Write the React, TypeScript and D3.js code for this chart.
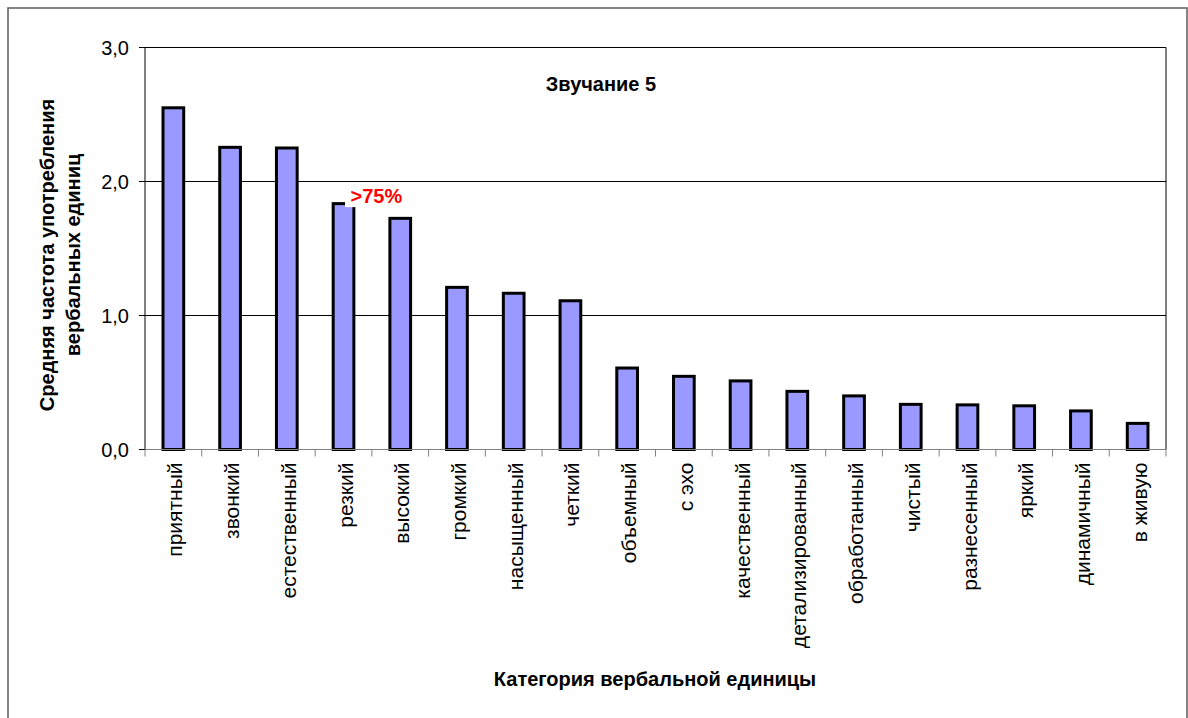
import React from "react";
import * as d3 from "d3";

const categories = [
  "приятный", "звонкий", "естественный", "резкий", "высокий", "громкий",
  "насыщенный", "четкий", "объемный", "с эхо", "качественный",
  "детализированный", "обработанный", "чистый", "разнесенный", "яркий",
  "динамичный", "в живую",
];
const values = [
  2.55, 2.255, 2.25, 1.835, 1.725, 1.21, 1.166, 1.11, 0.608, 0.546, 0.512,
  0.434, 0.4, 0.337, 0.333, 0.326, 0.288, 0.195,
];
const yTicks = [0, 1, 2, 3];
const chartTitle = "Звучание 5";
const yTitleLines = ["Средняя частота употребления", "вербальных единиц"];
const xTitle = "Категория вербальной единицы";
const annotation = { category: "резкий", text: ">75%" };

const W = 1188;
const H = 718;
const M = { left: 145, right: 1166, top: 47.5, bottom: 449.5 };
const FONT = "'Liberation Sans', Arial, sans-serif";

export default function App() {
  const x = d3
    .scaleBand<string>()
    .domain(categories)
    .range([M.left, M.right])
    .paddingInner(0.635)
    .paddingOuter(0.3175);
  const y = d3.scaleLinear().domain([0, 3]).range([M.bottom, M.top]);
  const step = x.step();
  const fmt = (v: number) => d3.format(".1f")(v).replace(".", ",");

  const annX = (x(annotation.category) ?? 0) + x.bandwidth() / 2;
  const annIdx = categories.indexOf(annotation.category);
  const annY = y(values[annIdx]);

  return (
    <svg
      width={W}
      height={H}
      style={{ position: "absolute", left: 0, top: 0, background: "#fff" }}
      fontFamily={FONT}
    >
      <rect x={0} y={0} width={W} height={H} fill="#fff" />
      {/* outer frame */}
      <rect x={8} y={8} width={1179} height={H + 20} fill="none" stroke="#666" strokeWidth={1.6} />

      {/* gridlines */}
      {yTicks.map((t) => (
        <line key={"g" + t} x1={M.left} x2={M.right} y1={y(t)} y2={y(t)} stroke="#000" strokeWidth={1} />
      ))}
      {/* plot right border */}
      <line x1={M.right} x2={M.right} y1={M.top} y2={M.bottom} stroke="#000" strokeWidth={1} />
      {/* y axis */}
      <line x1={M.left} x2={M.left} y1={M.top} y2={M.bottom} stroke="#000" strokeWidth={1} />
      {yTicks.map((t) => (
        <g key={"yt" + t}>
          <line x1={M.left - 6} x2={M.left} y1={y(t)} y2={y(t)} stroke="#000" strokeWidth={1} />
          <text x={M.left - 16} y={y(t)} dy="0.36em" textAnchor="end" fontSize={20} fill="#000">
            {fmt(t)}
          </text>
        </g>
      ))}

      {/* bars */}
      {categories.map((c, i) => (
        <rect
          key={"b" + c}
          x={x(c)}
          y={y(values[i])}
          width={x.bandwidth()}
          height={y(0) - y(values[i])}
          fill="#9999FF"
          stroke="#000"
          strokeWidth={3}
        />
      ))}

      {/* x axis */}
      <line x1={M.left} x2={M.right} y1={M.bottom} y2={M.bottom} stroke="#808080" strokeWidth={1.2} />
      {d3.range(categories.length + 1).map((i) => (
        <line
          key={"xt" + i}
          x1={M.left + i * step}
          x2={M.left + i * step}
          y1={M.bottom}
          y2={M.bottom + 7}
          stroke="#808080"
          strokeWidth={1}
        />
      ))}
      {categories.map((c) => {
        const cx = (x(c) ?? 0) + x.bandwidth() / 2 + 1.5;
        return (
          <text
            key={"xl" + c}
            transform={`translate(${cx},${M.bottom + 13}) rotate(-90)`}
            textAnchor="end"
            dy="0.36em"
            fontSize={21}
            fill="#000"
          >
            {c}
          </text>
        );
      })}

      {/* annotation */}
      <rect x={annX + 1.5} y={annY - 21} width={67} height={24.5} fill="#fff" />
      <text x={annX + 7} y={annY - 0.5} fontSize={20} fontWeight="bold" fill="#ff0000">
        {annotation.text}
      </text>

      {/* title */}
      <text x={601} y={91} textAnchor="middle" fontSize={20} fontWeight="bold" fill="#000">
        {chartTitle}
      </text>

      {/* y title */}
      {yTitleLines.map((l, i) => (
        <text
          key={"yl" + i}
          transform={`translate(${54 + i * 26},${255}) rotate(-90)`}
          textAnchor="middle"
          fontSize={20}
          fontWeight="bold"
          fill="#000"
        >
          {l}
        </text>
      ))}

      {/* x title */}
      <text x={655} y={686} textAnchor="middle" fontSize={20} fontWeight="bold" fill="#000">
        {xTitle}
      </text>
    </svg>
  );
}
